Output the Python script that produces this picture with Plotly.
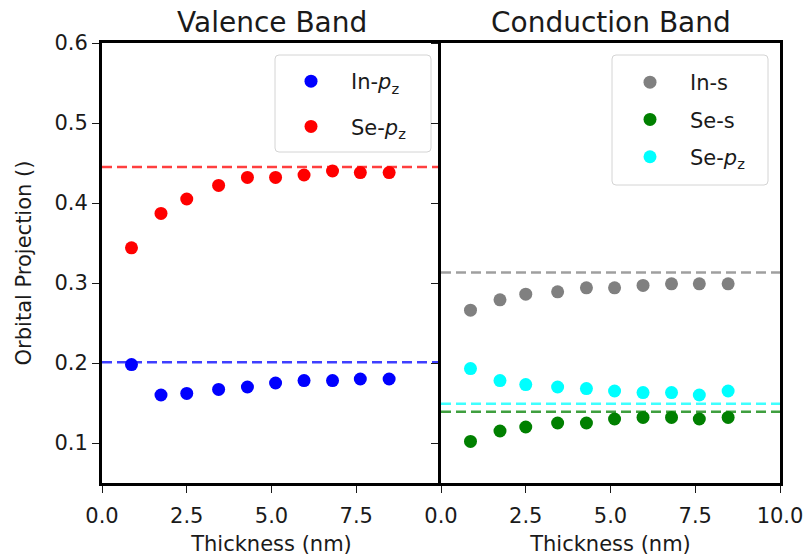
import plotly.graph_objects as go
from plotly.subplots import make_subplots

thickness = [0.87, 1.74, 2.5, 3.44, 4.29, 5.12, 5.96, 6.8, 7.62, 8.47]

vb_in_pz = [0.198, 0.160, 0.162, 0.167, 0.170, 0.175, 0.178, 0.178, 0.180, 0.180]
vb_se_pz = [0.344, 0.387, 0.405, 0.422, 0.432, 0.432, 0.435, 0.440, 0.438, 0.438]

cb_in_s = [0.266, 0.279, 0.286, 0.289, 0.294, 0.294, 0.297, 0.299, 0.299, 0.299]
cb_se_s = [0.102, 0.115, 0.120, 0.125, 0.125, 0.130, 0.132, 0.132, 0.130, 0.132]
cb_se_pz = [0.193, 0.178, 0.173, 0.170, 0.168, 0.165, 0.163, 0.163, 0.160, 0.165]

bulk_vb = {"In-pz": 0.201, "Se-pz": 0.445}
bulk_cb = {"In-s": 0.313, "Se-s": 0.139, "Se-pz": 0.149}

x_span = [0, 10]
x_ticks = [0, 2.5, 5, 7.5, 10]
y_ticks = [0.1, 0.2, 0.3, 0.4, 0.5, 0.6]

FONT = "DejaVu Sans"
TXT = "#1a1a1a"
FS = 21

fig = make_subplots(rows=1, cols=2, shared_yaxes=True, horizontal_spacing=0)

def add_series(col, y, ref, color, name, legend):
    fig.add_trace(go.Scatter(x=x_span, y=[ref, ref], mode="lines",
                             line=dict(color=color, width=2.5, dash="10px,5px"),
                             opacity=0.75, showlegend=False, hoverinfo="skip"),
                  row=1, col=col)
    fig.add_trace(go.Scatter(x=thickness, y=y, mode="markers", name=name,
                             marker=dict(color=color, size=13),
                             legend=legend, legendgroup=name + legend),
                  row=1, col=col)

add_series(1, vb_in_pz, bulk_vb["In-pz"], "#0000ff", "In-<i>p</i><sub>z</sub>", "legend")
add_series(1, vb_se_pz, bulk_vb["Se-pz"], "#ff0000", "Se-<i>p</i><sub>z</sub>", "legend")
add_series(2, cb_in_s, bulk_cb["In-s"], "#808080", "In-s", "legend2")
add_series(2, cb_se_s, bulk_cb["Se-s"], "#008000", "Se-s", "legend2")
add_series(2, cb_se_pz, bulk_cb["Se-pz"], "#00ffff", "Se-<i>p</i><sub>z</sub>", "legend2")

axis_common = dict(showline=True, linecolor="black", linewidth=3,
                   ticks="outside", ticklen=7, tickwidth=1.3, tickcolor=TXT,
                   showgrid=False, zeroline=False, automargin=False,
                   tickfont=dict(family=FONT, size=FS, color=TXT))

fig.update_xaxes(**axis_common, mirror=True, range=[0, 10], tickvals=x_ticks,
                 ticklabelstandoff=5,
                 title=dict(text="Thickness (nm)", font=dict(family=FONT, size=FS, color=TXT),
                            standoff=10))
fig.update_xaxes(ticktext=["0.0", "2.5", "5.0", "7.5", ""], row=1, col=1)
fig.update_xaxes(ticktext=["0.0", "2.5", "5.0", "7.5", "10.0"], row=1, col=2)
fig.update_yaxes(**axis_common, range=[0.05, 0.6], tickvals=y_ticks,
                 ticktext=["0.1", "0.2", "0.3", "0.4", "0.5", "0.6"])
fig.update_yaxes(mirror=False, row=1, col=1)
fig.update_yaxes(mirror=True, showticklabels=False, row=1, col=2)
fig.update_yaxes(title=dict(text="Orbital Projection ()", font=dict(family=FONT, size=FS, color=TXT),
                            standoff=18), row=1, col=1)

# plot-area pixel geometry (for legend frame placement)
L, R, T, B = 102, 780, 43, 483
def px(x):
    return (x - L) / (R - L)
def py(y):
    return (B - y) / (B - T)

def rounded_box(x0, y0, x1, y1, r=4):
    rx, ry = r / (R - L), r / (B - T)
    X0, X1, Y0, Y1 = px(x0), px(x1), py(y1), py(y0)
    return (f"M {X0+rx},{Y0} L {X1-rx},{Y0} Q {X1},{Y0} {X1},{Y0+ry} "
            f"L {X1},{Y1-ry} Q {X1},{Y1} {X1-rx},{Y1} L {X0+rx},{Y1} "
            f"Q {X0},{Y1} {X0},{Y1-ry} L {X0},{Y0+ry} Q {X0},{Y0} {X0+rx},{Y0} Z")

for box in [(275, 55, 431, 152), (612, 55, 768, 185)]:
    fig.add_shape(type="path", path=rounded_box(*box), xref="paper", yref="paper",
                  line=dict(color="#d4d4d4", width=1), fillcolor="white", layer="below")

legend_common = dict(bgcolor="rgba(0,0,0,0)", borderwidth=0,
                     font=dict(family=FONT, size=FS, color=TXT),
                     xanchor="left", yanchor="top", itemwidth=70)
fig.update_layout(
    legend=dict(**legend_common, x=px(271), y=py(61), tracegroupgap=15),
    legend2=dict(**legend_common, x=px(610), y=py(62), tracegroupgap=7),
)

for xc, t in [(0.25, "Valence Band"), (0.75, "Conduction Band")]:
    fig.add_annotation(x=xc, y=1, xref="paper", yref="paper", xanchor="center",
                       yanchor="bottom", yshift=2, showarrow=False, text=t,
                       font=dict(family=FONT, size=28, color=TXT))

fig.update_layout(width=804, height=556, margin=dict(l=L, r=804 - R, t=T, b=556 - B),
                  plot_bgcolor="white", paper_bgcolor="white",
                  font=dict(family=FONT, color=TXT))

fig.write_html("out.html")
